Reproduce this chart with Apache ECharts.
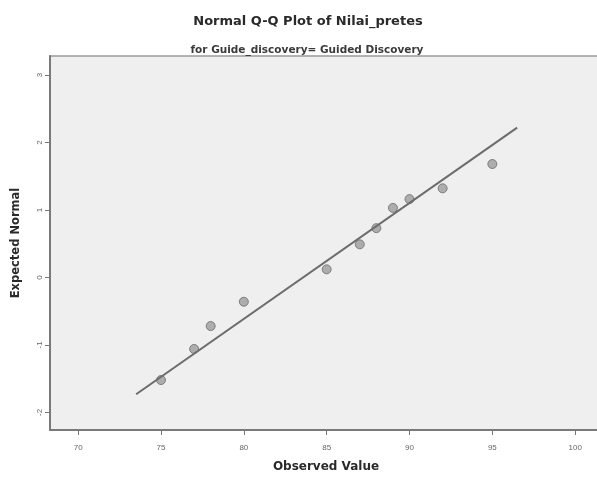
<!DOCTYPE html>
<html>
<head>
<meta charset="utf-8">
<script src="https://cdn.jsdelivr.net/npm/echarts@6/dist/echarts.min.js"></script>
<style>
  html, body { margin: 0; padding: 0; background: #ffffff; }
  #chart { width: 597px; height: 479px; }
</style>
</head>
<body>
<div id="chart"></div>
<script>
// Observed scores and their expected normal values
const observedValues = [75, 77, 78, 80, 85, 87, 88, 89, 90, 92, 95];
const expectedNormal = [-1.52, -1.06, -0.72, -0.36, 0.12, 0.49, 0.73, 1.03, 1.16, 1.32, 1.68];

// Reference line end points (observed, expected)
const lineObserved = [73.5, 96.5];
const lineExpected = [-1.73, 2.22];

// Tick labels
const xTicks = [70, 75, 80, 85, 90, 95, 100];
const yTicks = [-2, -1, 0, 1, 2, 3];

const points = observedValues.map((v, i) => [v, expectedNormal[i]]);
const linePts = lineObserved.map((v, i) => [v, lineExpected[i]]);

const boldFont = '"DejaVu Sans", Arial, sans-serif';

const chart = echarts.init(document.getElementById('chart'));
chart.setOption({
  backgroundColor: '#ffffff',
  animation: false,
  title: [
    {
      text: 'Normal Q-Q Plot of Nilai_pretes',
      left: 303, top: 10, textAlign: 'center',
      textStyle: { fontFamily: boldFont, fontSize: 13, fontWeight: 'bold', color: '#2a2a2a' }
    },
    {
      text: 'for Guide_discovery= Guided Discovery',
      left: 302, top: 40, textAlign: 'center',
      textStyle: { fontFamily: boldFont, fontSize: 10.5, fontWeight: 'bold', color: '#3a3a3a' }
    }
  ],
  grid: {
    left: 50, top: 56, right: -5, bottom: 49,
    outerBoundsMode: 'none',
    show: true, backgroundColor: '#efefef', borderColor: '#9a9a9a', borderWidth: 1.5
  },
  xAxis: {
    type: 'value', min: 68.3, max: 101.62,
    name: 'Observed Value', nameLocation: 'middle', nameGap: 31,
    nameTextStyle: { fontFamily: boldFont, fontSize: 12, fontWeight: 'bold', color: '#2a2a2a' },
    axisLine: { show: true, onZero: false, lineStyle: { color: '#7a7a7a', width: 2 } },
    axisTick: { show: true, customValues: xTicks, length: 5, lineStyle: { color: '#777' } },
    axisLabel: { customValues: xTicks, margin: 14, fontSize: 8, color: '#666', fontFamily: 'Arial, sans-serif' },
    splitLine: { show: false }
  },
  yAxis: {
    type: 'value', min: -2.26, max: 3.28,
    name: 'Expected Normal', nameLocation: 'middle', nameGap: 28, nameRotate: 90,
    nameTextStyle: { fontFamily: boldFont, fontSize: 11.5, fontWeight: 'bold', color: '#2a2a2a' },
    axisLine: { show: true, onZero: false, lineStyle: { color: '#7a7a7a', width: 2 } },
    axisTick: { show: true, customValues: yTicks, length: 5, lineStyle: { color: '#777' } },
    axisLabel: { customValues: yTicks, rotate: 90, margin: 6, fontSize: 8, color: '#666', fontFamily: 'Arial, sans-serif' },
    splitLine: { show: false }
  },
  series: [
    {
      type: 'line', data: linePts, symbol: 'none', silent: true,
      lineStyle: { color: '#6c6c6c', width: 2 }
    },
    {
      type: 'scatter', data: points, symbol: 'circle', symbolSize: 9,
      itemStyle: { color: '#9c9c9c', borderColor: '#6a6a6a', borderWidth: 1 }
    }
  ]
});
</script>
</body>
</html>
